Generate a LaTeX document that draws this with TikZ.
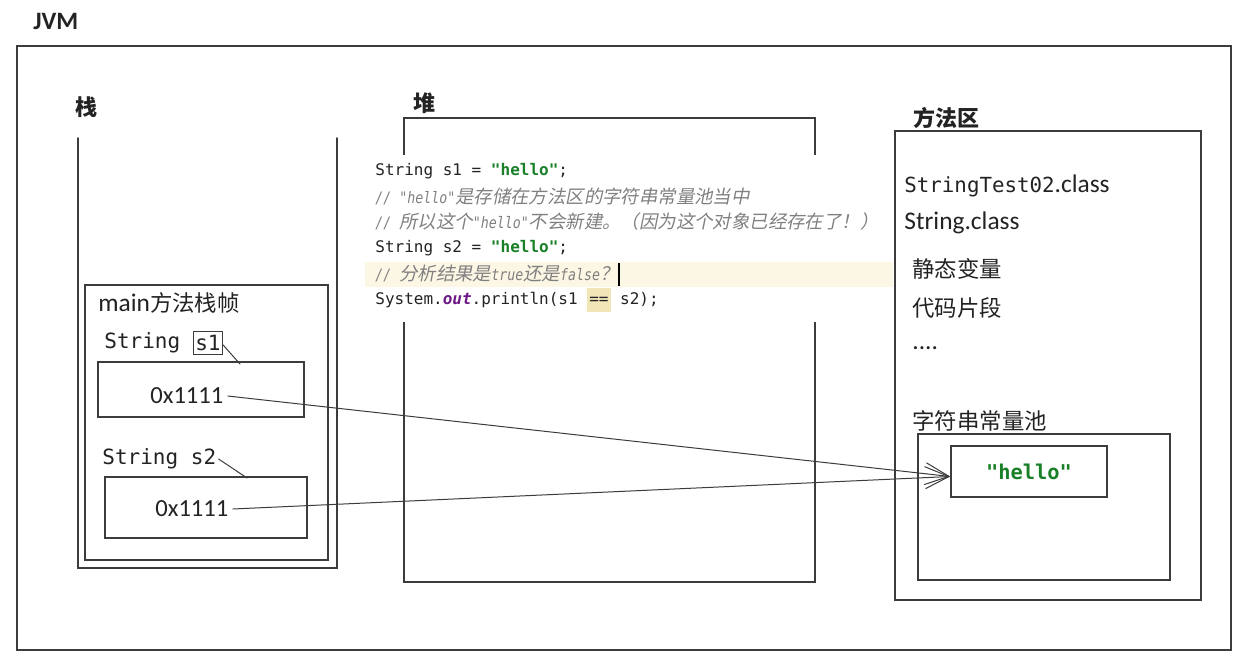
\documentclass[tikz,border=0pt]{standalone}
\usepackage{fontspec}
\setmainfont{Carlito}
\setmonofont{DejaVu Sans Mono}
\newfontfamily\cjk{Noto Sans CJK SC}
\newfontfamily\cjkit{Noto Sans CJK SC}[FakeSlant=0.2]
\newfontfamily\cmtmono{DejaVu Sans Mono}[FakeStretch=0.84]
\usepackage{tikz}
\usetikzlibrary{arrows.meta}
\usepackage{xcolor}
\definecolor{linegray}{RGB}{60,60,60}
\definecolor{txt}{RGB}{35,35,35}
\definecolor{codegreen}{RGB}{25,128,40}
\definecolor{cmtgray}{RGB}{128,128,128}
\definecolor{kwpurple}{RGB}{110,25,135}
\definecolor{hlline}{RGB}{252,246,228}
\definecolor{hlword}{RGB}{242,230,185}
\newcommand\zh[2][11.2]{{\cjk\fontsize{#1}{#1}\selectfont #2}}
\newcommand\cmt[1]{{\cmtmono\itshape\fontsize{7.9}{9}\selectfont #1}}
\newcommand\cmzh[1]{{\cjkit\fontsize{9.2}{10}\selectfont #1}}
\newcommand\str[1]{{\bfseries\color{codegreen}#1}}

\begin{document}
\begin{tikzpicture}[x=0.5pt,y=-0.5pt,line cap=round,
  box/.style={draw=linegray,line width=0.8pt},
  lbl/.style={anchor=west,inner sep=0pt,text=txt},
  head/.style={lbl,font=\cjk\bfseries\fontsize{11}{12}\selectfont},
  sans/.style={lbl,font=\fontsize{12.7}{14}\selectfont},
  mono/.style={lbl,font=\ttfamily\fontsize{10.5}{12}\selectfont},
  code/.style={lbl,font=\ttfamily\fontsize{8}{10}\selectfont},
  ptr/.style={draw=linegray,line width=0.5pt,-{Straight Barb[length=12pt,width=11pt]}}]
\useasboundingbox (0,0) rectangle (1253,669);
\fill[white] (0,0) rectangle (1253,669);
\node[lbl,font=\bfseries\fontsize{12.5}{14}\selectfont] (jvm) at (33,21) {JVM};
\draw[box] (17,46) rectangle (1231,650);
% stack
\node[head] (stacklbl) at (75,107) {栈};
\draw[box] (78,138) -- (78,568) -- (337,568) -- (337,138);
\draw[box] (85,285) rectangle (328,560);
\node[sans] (frame) at (98,303) {main\zh{方法栈帧}};
\node[mono] (str1) at (104,343) {String};
\node[mono,anchor=west,draw=linegray,line width=0.6pt,inner sep=1pt,minimum height=11.5pt] (s1) at ([xshift=6pt]str1.east) {s1};
\draw[box] (98,362) rectangle (304,417);
\node[sans,inner sep=2pt,font=\fontsize{12.3}{14}\selectfont] (v1) at (146,396) {0x1111};
\coordinate (p1) at (240,364);
\draw[linegray,line width=0.5pt] ([yshift=-1pt]s1.east) -- (p1);
\node[mono,inner sep=1pt] (str2) at (100,459) {String s2};
\coordinate (p2) at (247,478);
\draw[linegray,line width=0.5pt] (str2.east) -- (p2);
\draw[box] (105,477) rectangle (307,538);
\node[sans,inner sep=2pt,font=\fontsize{12.3}{14}\selectfont] (v2) at (151,509) {0x1111};
% heap
\node[head] (heaplbl) at (413,103) {堆};
\draw[box] (404,118) rectangle (815,582);
\fill[white] (365,155) rectangle (893,322);
\fill[hlline] (365,262) rectangle (893,287);
\node[code] (c1) at (375,171) {String s1 = \str{"hello"};};
\node[code,text=cmtgray] (c2) at (375,196) {\cmt{// "hello"}\cmzh{是存储在方法区的字符串常量池当中}};
\node[code,text=cmtgray] (c3) at (375,222) {\cmt{// }\cmzh{所以这个}\cmt{"hello"}\cmzh{不会新建。（因为这个对象已经存在了！）}};
\node[code] (c4) at (375,248) {String s2 = \str{"hello"};};
\node[code,text=cmtgray] (c5) at (375,274) {\cmt{// }\cmzh{分析结果是}\cmt{true}\cmzh{还是}\cmt{false}\cmzh{？}{\color{black}\rule[-2.5pt]{0.7pt}{11.5pt}}};
\node[code] (c6) at (375,300) {System.{\bfseries\itshape\color{kwpurple}out}.println(s1 {\setlength\fboxsep{1pt}\colorbox{hlword}{\strut==}} s2);};
% method area
\node[head] (methlbl) at (913,118) {方法区};
\draw[box] (895,131) rectangle (1201,600);
\node[sans] (cls1) at (904,186) {{\ttfamily\fontsize{10.4}{12}\selectfont StringTest02}.class};
\node[sans] (cls2) at (904,223) {String.class};
\node[lbl] (statvar) at (912,269) {\zh{静态变量}};
\node[lbl] (codeseg) at (912,308) {\zh{代码片段}};
\node[sans] (dots) at (912,348) {....};
\node[lbl] (poollbl) at (912,421) {\zh{字符串常量池}};
\draw[box] (918,434) rectangle (1170,580);
\node[box,minimum width=78pt,minimum height=25.5pt,inner sep=0pt,
  font=\ttfamily\bfseries\fontsize{10.2}{12}\selectfont,text=codegreen] (hello) at (1029,471.5) {"hello"};
\draw[ptr] (v1.east) -- ([yshift=-2.5pt]hello.west);
\draw[ptr] (v2.east) -- ([yshift=-2.5pt]hello.west);
\end{tikzpicture}
\end{document}
